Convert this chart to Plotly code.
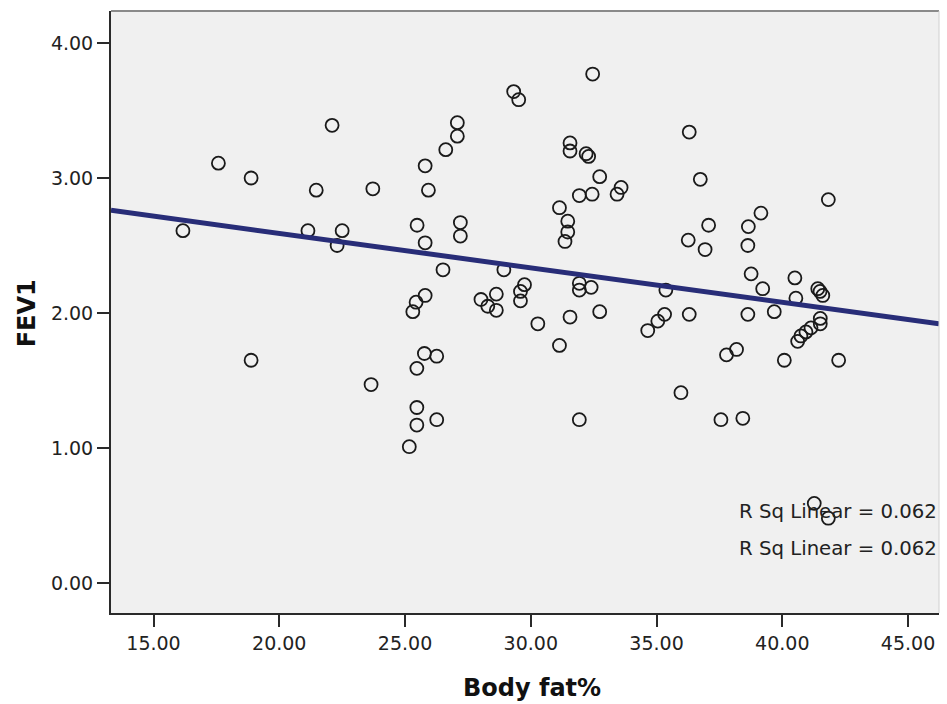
import plotly.graph_objects as go

# Data
body_fat = [16.17, 17.58, 18.88, 22.10, 21.47, 23.72, 21.14, 22.50, 22.30, 18.88, 23.65,
            32.46, 29.32, 29.52, 27.08, 27.08, 26.62, 25.80, 25.93, 25.48, 25.80, 27.20, 27.20,
            26.51, 28.93, 31.56, 31.56, 32.20, 32.30, 32.74, 31.93, 32.44, 33.59, 33.43, 31.14,
            31.47, 31.47, 31.36, 31.93, 31.93, 32.40, 35.37, 35.32, 25.80, 25.44, 25.31, 28.02,
            28.29, 28.63, 28.63, 29.75, 29.59, 29.59, 30.28, 31.56, 32.74,
            31.14, 34.65, 35.05, 25.77, 26.26, 25.47, 25.47, 25.47, 26.26, 25.17, 31.93,
            36.30, 36.74, 41.83, 39.15, 37.07, 38.65, 36.26, 36.93, 38.63, 38.76, 40.50, 39.22,
            40.54, 41.41, 41.61, 41.50, 36.30, 38.63, 39.68, 41.51,
            41.51, 41.14, 40.94, 40.74, 40.61, 37.78, 38.18, 40.08, 42.24, 35.97, 37.56, 38.43,
            41.27, 41.83]
fev1 = [2.61, 3.11, 3.00, 3.39, 2.91, 2.92, 2.61, 2.61, 2.50, 1.65, 1.47,
        3.77, 3.64, 3.58, 3.41, 3.31, 3.21, 3.09, 2.91, 2.65, 2.52, 2.67, 2.57,
        2.32, 2.32, 3.26, 3.20, 3.18, 3.16, 3.01, 2.87, 2.88, 2.93, 2.88, 2.78,
        2.68, 2.60, 2.53, 2.22, 2.17, 2.19, 2.17, 1.99, 2.13, 2.08, 2.01, 2.10,
        2.05, 2.14, 2.02, 2.21, 2.16, 2.09, 1.92, 1.97, 2.01,
        1.76, 1.87, 1.94, 1.70, 1.68, 1.59, 1.30, 1.17, 1.21, 1.01, 1.21,
        3.34, 2.99, 2.84, 2.74, 2.65, 2.64, 2.54, 2.47, 2.50, 2.29, 2.26, 2.18,
        2.11, 2.18, 2.13, 2.16, 1.99, 1.99, 2.01, 1.96,
        1.92, 1.89, 1.86, 1.83, 1.79, 1.69, 1.73, 1.65, 1.65, 1.41, 1.21, 1.22,
        0.59, 0.48]

FIT_INTERCEPT = 3.10
FIT_SLOPE = -0.0255
r_sq_labels = ["R Sq Linear = 0.062", "R Sq Linear = 0.062"]
r_sq_y = [0.528, 0.257]

x_ticks = [15, 20, 25, 30, 35, 40, 45]
y_ticks = [0, 1, 2, 3, 4]
X_RANGE = [13.31, 46.23]
Y_RANGE = [-0.222, 4.237]

fit_x = X_RANGE
fit_y = [FIT_INTERCEPT + FIT_SLOPE * v for v in fit_x]

FONT = "DejaVu Sans"

fig = go.Figure()
fig.add_trace(go.Scatter(
    x=body_fat, y=fev1, mode="markers",
    marker=dict(symbol="circle-open", size=13, color="#1a1a1a", line=dict(width=1.8, color="#1a1a1a")),
    showlegend=False, hoverinfo="x+y"))
fig.add_trace(go.Scatter(
    x=fit_x, y=fit_y, mode="lines",
    line=dict(color="#282d78", width=5), showlegend=False, hoverinfo="skip"))

for txt, yy in zip(r_sq_labels, r_sq_y):
    fig.add_annotation(x=X_RANGE[1], y=yy, xref="x", yref="y", text=txt, showarrow=False,
                       xanchor="right", yanchor="middle",
                       font=dict(family=FONT, size=19.7, color="#222222"))

fig.add_annotation(x=0.508, y=-0.1246, xref="paper", yref="paper", text="<b>Body fat%</b>",
                   showarrow=False, xanchor="center", yanchor="middle",
                   font=dict(family=FONT, size=24, color="#111111"))
fig.add_annotation(x=-0.102, y=0.497, xref="paper", yref="paper", text="<b>FEV1</b>",
                   showarrow=False, xanchor="center", yanchor="middle", textangle=-90,
                   font=dict(family=FONT, size=24, color="#111111"))

# top and right borders
fig.add_shape(type="line", xref="paper", yref="paper", x0=0, x1=1, y0=1, y1=1,
              line=dict(color="#8a8a8a", width=2))
fig.add_shape(type="line", xref="paper", yref="paper", x0=1, x1=1, y0=0, y1=1,
              line=dict(color="#d0d0d0", width=1))

fig.update_layout(
    width=947, height=704,
    margin=dict(l=111, r=8, t=11, b=91),
    paper_bgcolor="white", plot_bgcolor="#f0f0f0",
    font=dict(family=FONT, size=19, color="#222222"),
    xaxis=dict(range=X_RANGE, tickvals=x_ticks, tickformat=".2f", showgrid=False, zeroline=False,
               showline=True, linecolor="#2a2a2a", linewidth=2, ticks="outside", ticklen=12,
               tickwidth=2, tickcolor="#2a2a2a", tickfont=dict(family=FONT, size=19, color="#222222")),
    yaxis=dict(range=Y_RANGE, tickvals=y_ticks, tickformat=".2f", showgrid=False, zeroline=False,
               showline=True, linecolor="#2a2a2a", linewidth=2, ticks="outside", ticklen=12,
               tickwidth=2, tickcolor="#2a2a2a", tickfont=dict(family=FONT, size=19, color="#222222")),
)

fig.write_html("out.html")
